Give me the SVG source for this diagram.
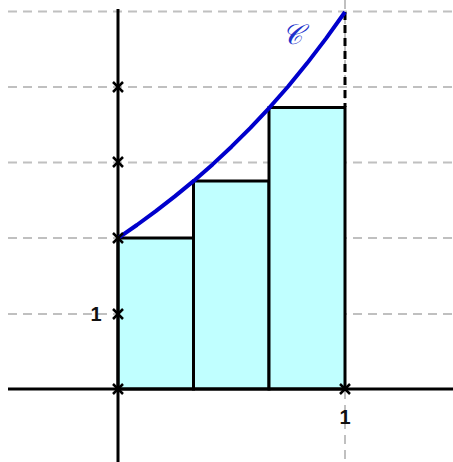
<svg xmlns="http://www.w3.org/2000/svg" width="453" height="462" viewBox="0 0 453 462">
<style>
.grid{stroke:#c0c0c0;stroke-width:2;stroke-dasharray:9 6;fill:none}
.axis{stroke:#000;stroke-width:3;fill:none}
.rect{fill:#c0ffff;stroke:#000;stroke-width:3}
.cross{stroke:#000;stroke-width:2.5;fill:none}
.lbl{font-family:"Liberation Sans",Arial,sans-serif;font-size:20px;font-weight:bold;fill:#111;text-anchor:middle}
</style>
<rect width="453" height="462" fill="#fff"/>
<g id="grid">
<path class="grid" d="M8 11.5H453M8 87H453M8 162.5H453M8 238H453M8 314H453M345 0V462"/>
</g>
<g id="rectangles">
<rect class="rect" x="118" y="238" width="75.5" height="151"/>
<rect class="rect" x="193.5" y="181" width="75.5" height="208"/>
<rect class="rect" x="269" y="107.5" width="76" height="281.5"/>
</g>
<g id="axes">
<path class="axis" d="M8 389H453M118 9V462"/>
</g>
<g id="connectors">
<path d="M345 12V107" stroke="#000" stroke-width="3" stroke-dasharray="8 5" fill="none"/>
<path id="curve" d="M118 238.2L136.9 225L155.8 211.1L174.8 196.4L193.7 180.9L212.6 164.4L231.5 146.7L250.4 127.9L269.3 107.8L288.3 86.2L307.2 63.1L326.1 38.4L345 12" stroke="#0000cc" stroke-width="4" fill="none" stroke-linejoin="round"/>
</g>
<g id="crosses">
<path class="cross" d="M113 82L123 92M123 82L113 92M113 157L123 167M123 157L113 167M113 233L123 243M123 233L113 243M113 309L123 319M123 309L113 319M113 384L123 394M123 384L113 394M340 384L350 394M350 384L340 394"/>
</g>
<g id="labels">
<text class="lbl" x="96" y="321">1</text>
<text class="lbl" x="345" y="424">1</text>
<text x="292" y="44" font-family="'DejaVu Serif','Liberation Serif',serif" font-style="italic" font-size="28" fill="#2233cc" text-anchor="middle">𝒞</text>
</g>
</svg>
